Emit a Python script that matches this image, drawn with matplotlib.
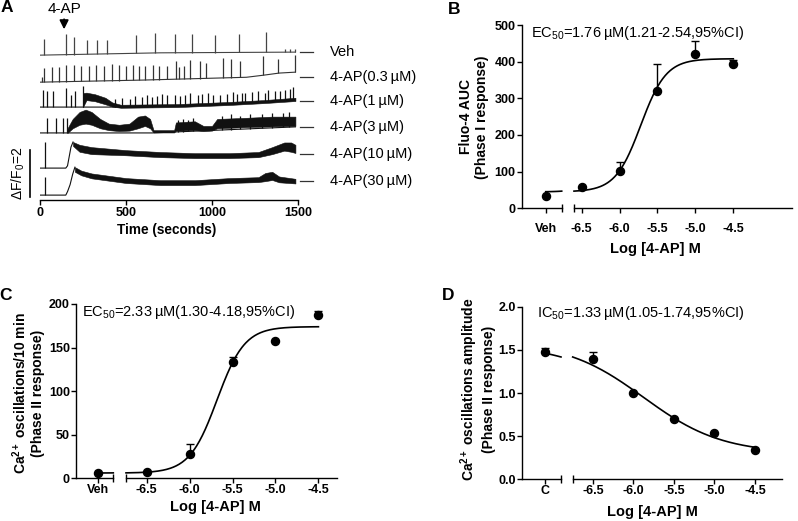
import numpy as np
import matplotlib
matplotlib.use("Agg")
import matplotlib.pyplot as plt

plt.rcParams['font.family'] = ['Liberation Sans', 'DejaVu Sans']
plt.rcParams['mathtext.fontset'] = 'custom'
plt.rcParams['mathtext.rm'] = 'Liberation Sans'
plt.rcParams['mathtext.it'] = 'Liberation Sans:italic'
plt.rcParams['mathtext.bf'] = 'Liberation Sans:bold'
plt.rcParams['axes.linewidth'] = 1.0

W, H = 798, 521

# ---------------- panel A: Fluo-4 traces (time in s, dF/F0 relative to trace start)
trace_labels = ["Veh", "4-AP(0.3\u2009µM)", "4-AP(1\u2009µM)", "4-AP(3\u2009µM)",
                "4-AP(10\u2009µM)", "4-AP(30\u2009µM)"]
trace_offsets = [6.22, 5.06, 3.99, 2.88, 1.37, 0.21]
label_levels = [6.35, 5.28, 4.25, 3.13, 1.97, 0.82]

veh_base_t = [0, 700, 1485]
veh_base_y = [0, 0.10, 0.13]
veh_spk_t = [23, 154, 195, 276, 333, 390, 558, 669, 785, 881, 1017, 1159, 1314, 1424, 1453, 1483]
veh_spk_a = [0.7, 0.9, 0.75, 0.6, 0.6, 0.6, 0.8, 0.85, 0.8, 0.8, 0.75, 0.8, 0.85, 0.12, 0.15, 0.15]

ap03_base_t = [0, 600, 1000, 1200, 1300, 1390, 1485]
ap03_base_y = [0, 0.09, 0.17, 0.21, 0.30, 0.39, 0.43]
ap03_spk_t = [10, 23, 67, 110, 154, 198, 241, 285, 328, 372, 416, 459, 500, 541, 576, 613, 657, 692,
              737, 791, 810, 837, 872, 930, 965, 1062, 1110, 1163, 1298, 1385, 1483]
ap03_spk_a = [0.2, 0.6, 0.65, 0.65, 0.7, 0.7, 0.65, 0.65, 0.7, 0.65, 0.7, 0.65, 0.6, 0.65, 0.6, 0.6, 0.65, 0.6,
              0.57, 0.8, 0.5, 0.55, 0.8, 0.75, 0.65, 0.86, 0.8, 0.7, 0.82, 0.6, 0.72]

ap1_base_t = [0, 400, 800, 1100, 1300, 1485]
ap1_base_y = [0, 0, 0.04, 0.13, 0.21, 0.30]
ap1_spk_t = [17, 38, 76, 154, 180, 201, 250,
             436, 478, 523, 552, 591, 620, 649, 678, 707, 736, 785, 814, 843, 872, 920, 940, 979,
             1008, 1047, 1086, 1124, 1144, 1173, 1192, 1231, 1270, 1308, 1328, 1366, 1395, 1424, 1453, 1473]
ap1_spk_a = [0.74, 0.67, 0.67, 0.8, 0.5, 0.67, 0.89,
             0.35, 0.4, 0.35, 0.45, 0.4, 0.5, 0.4, 0.45, 0.55, 0.5, 0.5, 0.45, 0.45, 0.55, 0.45, 0.5, 0.5,
             0.4, 0.4, 0.45, 0.5, 0.4, 0.45, 0.45, 0.45, 0.5, 0.4, 0.5, 0.45, 0.45, 0.45, 0.5, 0.55]
ap1_band_t = [250, 270, 320, 380, 420, 470, 800, 1100, 1300, 1485]
ap1_band_lo = [0.0, 0.3, 0.25, 0.12, 0.02, -0.03, 0.0, 0.09, 0.17, 0.26]
ap1_band_hi = [0.6, 0.62, 0.55, 0.4, 0.2, 0.1, 0.13, 0.22, 0.3, 0.4]

ap3_base_t = [0, 650, 1485]
ap3_base_y = [0, 0, 0.26]
ap3_spk_t = [41, 93, 134, 157, 800, 830, 860, 890, 1060, 1110, 1160, 1220, 1290, 1350, 1410, 1450]
ap3_spk_a = [0.65, 0.65, 0.65, 0.65, 0.5, 0.55, 0.5, 0.55, 0.6, 0.65, 0.55, 0.65, 0.6, 0.65, 0.6, 0.65]
ap3_band_t = [160, 190, 230, 265, 300, 350, 400, 460, 520, 570, 610, 640, 660, 780, 790, 900, 950,
              1000, 1030, 1200, 1350, 1485]
ap3_band_lo = [0, 0.2, 0.35, 0.4, 0.35, 0.2, 0.12, 0.08, 0.1, 0.2, 0.3, 0.2, 0.02, 0.02, 0.1, 0.12, 0.08,
               0.1, 0.2, 0.25, 0.28, 0.3]
ap3_band_hi = [0.2, 0.6, 0.9, 1.0, 0.9, 0.6, 0.4, 0.35, 0.4, 0.7, 0.75, 0.6, 0.12, 0.12, 0.45, 0.5, 0.3,
               0.3, 0.6, 0.65, 0.7, 0.7]

ap10_base_t = [0, 150, 160, 170, 180, 192]
ap10_base_y = [0, 0, 0.1, 0.5, 0.9, 1.12]
ap10_spk_t = [29]
ap10_spk_a = [1.1]
ap10_band_t = [192, 230, 300, 500, 700, 900, 1100, 1270, 1350, 1420, 1460, 1485]
ap10_band_lo = [0.95, 0.7, 0.6, 0.55, 0.47, 0.43, 0.43, 0.47, 0.6, 0.75, 0.7, 0.65]
ap10_band_hi = [1.12, 1.0, 0.9, 0.77, 0.69, 0.64, 0.64, 0.69, 0.9, 1.1, 1.1, 1.0]

ap30_base_t = [0, 150, 160, 175, 190, 203]
ap30_base_y = [0, 0, 0.15, 0.45, 0.9, 1.2]
ap30_spk_t = [29]
ap30_spk_a = [0.78]
ap30_band_t = [203, 240, 300, 500, 700, 900, 1100, 1270, 1310, 1350, 1390, 1485]
ap30_band_lo = [1.0, 0.85, 0.72, 0.52, 0.43, 0.43, 0.52, 0.56, 0.6, 0.65, 0.55, 0.5]
ap30_band_hi = [1.2, 1.05, 0.93, 0.73, 0.64, 0.64, 0.73, 0.77, 0.95, 1.0, 0.8, 0.7]

apply_time = 140  # 4-AP addition (s)

# ---------------- panels B-D: dose response, x = log [4-AP] M
log_conc = [-6.5, -6.0, -5.5, -5.0, -4.5]

b_ctrl, b_ctrl_err = 34, 0
b_y = [57, 103, 320, 420, 393]
b_err = [0, 22, 73, 36, 12]
b_bottom, b_top, b_logec, b_hill = 45, 408, -5.72, 2.6

c_ctrl, c_ctrl_err = 6.5, 0
c_y = [7, 28, 133, 157.5, 187]
c_err = [0, 11, 6.5, 0, 5]
c_bottom, c_top, c_logec, c_hill = 6, 174, -5.68, 2.7

d_ctrl, d_ctrl_err = 1.473, 0.05
d_y = [1.396, 1.004, 0.696, 0.542, 0.338]
d_err = [0.077, 0, 0, 0, 0]
d_bottom, d_top, d_logic, d_hill = 0.3, 1.6, -5.876, 0.9


def hill_up(x, bottom, top, logec, h):
    return bottom + (top - bottom) / (1 + 10 ** ((logec - np.asarray(x)) * h))


def hill_down(x, bottom, top, logic, h):
    return bottom + (top - bottom) / (1 + 10 ** ((np.asarray(x) - logic) * h))


fig = plt.figure(figsize=(W / 100, H / 100), dpi=100)


def px_ax(x0, x1, ytop, ybot):
    return fig.add_axes([x0 / W, 1 - ybot / H, (x1 - x0) / W, (ybot - ytop) / H])


def ftext(x, y, s, **kw):
    fig.text(x / W, 1 - y / H, s, **kw)


TICK_FS = 9
LAB_FS = 10.5

# ---------------- panel A
axA = px_ax(40, 298, 30, 200)
axA.set_xlim(0, 1500)
axA.set_ylim(0, 7.3)
for s in ['top', 'right', 'left']:
    axA.spines[s].set_visible(False)
axA.set_yticks([])
axA.set_xticks([0, 500, 1000, 1500])
axA.set_xticklabels(['0', '500', '1000', '1500'], fontweight='bold')
axA.tick_params(axis='x', direction='out', length=3.6, width=1.0, labelsize=TICK_FS, pad=1.2)

traces = [
    (veh_base_t, veh_base_y, veh_spk_t, veh_spk_a, None, '#444444'),
    (ap03_base_t, ap03_base_y, ap03_spk_t, ap03_spk_a, None, '#333333'),
    (ap1_base_t, ap1_base_y, ap1_spk_t, ap1_spk_a, (ap1_band_t, ap1_band_lo, ap1_band_hi), '#111111'),
    (ap3_base_t, ap3_base_y, ap3_spk_t, ap3_spk_a, (ap3_band_t, ap3_band_lo, ap3_band_hi), '#111111'),
    (ap10_base_t, ap10_base_y, ap10_spk_t, ap10_spk_a, (ap10_band_t, ap10_band_lo, ap10_band_hi), '#111111'),
    (ap30_base_t, ap30_base_y, ap30_spk_t, ap30_spk_a, (ap30_band_t, ap30_band_lo, ap30_band_hi), '#111111'),
]

for (bt, by, st, sa, band, col), off, lab, lvl in zip(traces, trace_offsets, trace_labels, label_levels):
    axA.plot(bt, off + np.array(by), color=col, lw=0.8)
    if band is None:
        b = np.interp(st, bt, by)
    else:
        b = np.interp(st, bt + band[0], by + list(band[1]))
    axA.vlines(st, off + b, off + b + np.array(sa), color=col, lw=0.9)
    if band is not None:
        axA.fill_between(band[0], off + np.array(band[1]), off + np.array(band[2]),
                         color='#111111', lw=0.4)
    axA.plot([1512, 1590], [lvl, lvl], color='#333333', lw=0.9, clip_on=False)
    axA.text(1686, lvl, lab, fontsize=10.5, va='center', ha='left', clip_on=False)

# 4-AP arrow and scale bar
axA.annotate('', xy=(apply_time, 7.21), xytext=(apply_time, 7.88),
             arrowprops=dict(arrowstyle='-|>', color='k', lw=1.3, mutation_scale=13),
             annotation_clip=False)
axA.text(apply_time, 8.2, '4-AP', fontsize=11, ha='center', va='center', clip_on=False)
axA.plot([-58, -58], [0.13, 2.13], color='k', lw=1.2, clip_on=False)
ftext(18, 173, r'$\Delta$F/F$_0$=2', fontsize=10, rotation=90, ha='center', va='center')
ftext(167, 230, 'Time (seconds)', fontsize=9.8, fontweight='bold', ha='center', va='center')


# ---------------- dose-response panels
def dose_panel(xl, xr, ytop, ybot, xlim, ylim, yticks, yfmt, ctrl_lab, ctrl, ctrl_err,
               ys, errs, curve, x_pad):
    axl = px_ax(xl[0], xl[1], ytop, ybot)
    axr = px_ax(xr[0], xr[1], ytop, ybot)
    for ax in (axl, axr):
        ax.set_ylim(*ylim)
        ax.spines['top'].set_visible(False)
        ax.spines['right'].set_visible(False)
        ax.tick_params(direction='out', length=3.6, width=1.0, labelsize=TICK_FS)
        ax.tick_params(axis='x', pad=x_pad)
        ax.tick_params(axis='y', pad=0.8)
    axl.set_xlim(0, 1)
    axr.set_xlim(*xlim)
    axr.spines['left'].set_visible(False)
    axr.set_yticks([])
    axl.set_yticks(yticks)
    axl.set_yticklabels([yfmt.format(v) for v in yticks], fontweight='bold')
    axl.set_xticks([0.6])
    axl.set_xticklabels([ctrl_lab], fontweight='bold')
    axr.set_xticks(log_conc)
    axr.set_xticklabels(['{:.1f}'.format(v) for v in log_conc], fontweight='bold')
    # axis break marks
    axl.plot([1], [0], marker='|', ms=6, mew=1.0, color='k', transform=axl.transAxes, clip_on=False)
    axr.plot([0], [0], marker='|', ms=6, mew=1.0, color='k', transform=axr.transAxes, clip_on=False)
    # fitted curve, continued onto the control segment
    xc = np.linspace(xlim[0], -4.5, 200)
    axr.plot(xc, curve(xc), color='k', lw=1.2, clip_on=False)
    xlc = np.linspace(-6.9, xlim[0], 20)
    axl.plot(np.linspace(0.6, 1.0, 20), curve(xlc), color='k', lw=1.2, clip_on=False)
    # error bars (upper only) and points
    if ctrl_err > 0:
        axl.errorbar([0.6], [ctrl], yerr=[[0], [ctrl_err]], fmt='none', ecolor='k',
                     elinewidth=1.0, capsize=3, capthick=1.0)
    axl.plot([0.6], [ctrl], 'o', color='k', ms=5.8, zorder=3, clip_on=False)
    xe = [x for x, e in zip(log_conc, errs) if e > 0]
    ye = [y for y, e in zip(ys, errs) if e > 0]
    ee = [e for e in errs if e > 0]
    axr.errorbar(xe, ye, yerr=[np.zeros(len(ee)), ee], fmt='none', ecolor='k',
                 elinewidth=1.0, capsize=3, capthick=1.0)
    axr.plot(log_conc, ys, 'o', color='k', ms=5.8, zorder=3, clip_on=False)
    return axl, axr


dose_panel((521.7, 561.7), (574, 791.7), 25, 208.3, (-6.60, -3.73), (0, 500),
           [0, 100, 200, 300, 400, 500], '{:.0f}', 'Veh', b_ctrl, b_ctrl_err, b_y, b_err,
           lambda x: hill_up(x, b_bottom, b_top, b_logec, b_hill), 6.8)
dose_panel((76, 113.3), (126, 337.3), 304, 478.3, (-6.74, -4.28), (0, 200),
           [0, 50, 100, 150, 200], '{:.0f}', 'Veh', c_ctrl, c_ctrl_err, c_y, c_err,
           lambda x: hill_up(x, c_bottom, c_top, c_logec, c_hill), 0.3)
dose_panel((521.7, 561), (572.7, 781.7), 306.7, 479.3, (-6.75, -4.17), (0, 2.0),
           [0, 0.5, 1.0, 1.5, 2.0], '{:.1f}', 'C', d_ctrl, d_ctrl_err, d_y, d_err,
           lambda x: hill_down(x, d_bottom, d_top, d_logic, d_hill), 0.3)

# axis labels
ftext(655, 249, 'Log [4-AP] M', fontsize=LAB_FS, fontweight='bold', ha='center', va='center')
ftext(215, 507, 'Log [4-AP] M', fontsize=LAB_FS, fontweight='bold', ha='center', va='center')
ftext(652, 512, 'Log [4-AP] M', fontsize=LAB_FS, fontweight='bold', ha='center', va='center')
ftext(474, 117, 'Fluo-4 AUC\n(Phase I response)', fontsize=10, fontweight='bold',
      rotation=90, ha='center', va='center', multialignment='center')
ftext(28, 393, 'Ca$^{\\mathbf{2+}}$ oscillations/10 min\n(Phase II response)', fontsize=10,
      fontweight='bold', rotation=90, ha='center', va='center', multialignment='center')
ftext(477, 389, 'Ca$^{\\mathbf{2+}}$ oscillations amplitude\n(Phase II response)', fontsize=10,
      fontweight='bold', rotation=90, ha='center', va='center', multialignment='center')

# fit annotations
ftext(531, 33, 'EC$_{50}$=1.76\u2009µM(1.21-2.54,95%CI)', fontsize=10.5, ha='left', va='center')
ftext(82, 312, 'EC$_{50}$=2.33\u2009µM(1.30-4.18,95%CI)', fontsize=10.5, ha='left', va='center')
ftext(537, 313, 'IC$_{50}$=1.33\u2009µM(1.05-1.74,95%CI)', fontsize=10.5, ha='left', va='center')

# panel letters
for lab, x, y in [('A', 7, 8), ('B', 454, 10), ('C', 6, 296), ('D', 448, 296)]:
    ftext(x, y, lab, fontsize=12.5, fontweight='bold', ha='center', va='center')

fig.savefig('out.png', dpi=100)
